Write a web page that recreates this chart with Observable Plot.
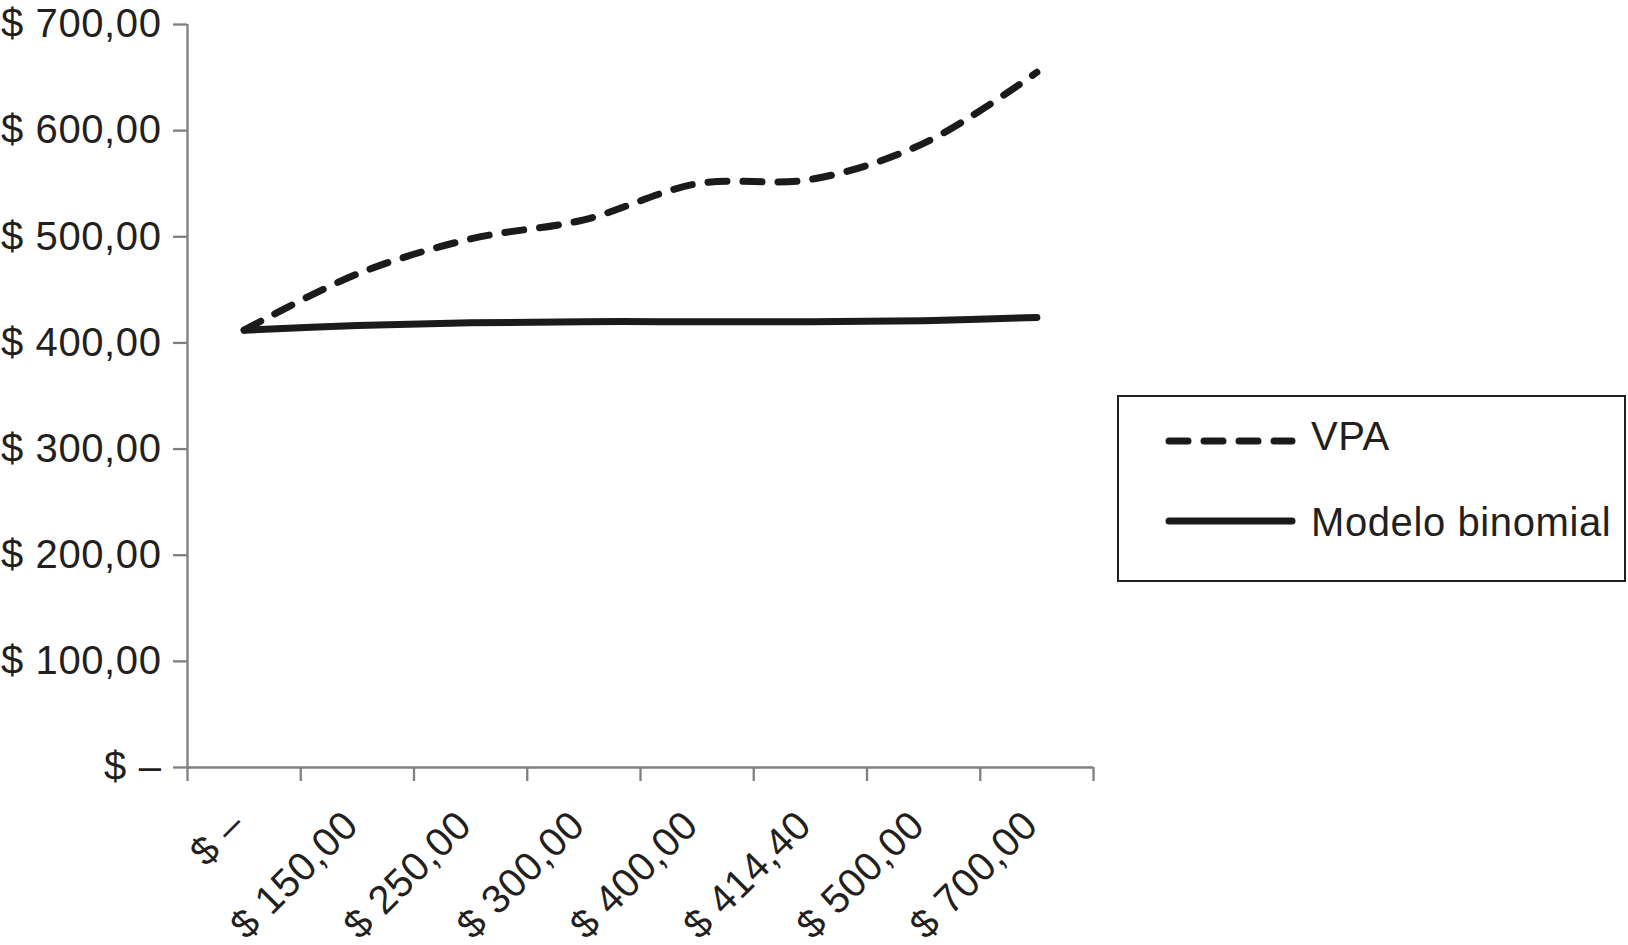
<!DOCTYPE html>
<html>
<head>
<meta charset="utf-8">
<script src="https://cdn.jsdelivr.net/npm/d3@7"></script>
<script src="https://cdn.jsdelivr.net/npm/@observablehq/plot@0.6"></script>
<style>
  body { margin: 0; background: #fff; }
  #wrap { position: relative; width: 1628px; height: 945px; font-family: "Liberation Sans", Arial, Helvetica, sans-serif; color: #231f20; }
  #legend { position: absolute; left: 1117px; top: 395px; width: 505px; height: 183px; border: 2.5px solid #231f20; background: #fff; }
  #legend svg { position: absolute; left: 0; top: 0; overflow: visible; }
</style>
</head>
<body>
<div id="wrap"></div>
<script>
// ---- data ----
const categories = ["$ –", "$ 150,00", "$ 250,00", "$ 300,00", "$ 400,00", "$ 414,40", "$ 500,00", "$ 700,00"];
const vpa = [412, 465, 498, 516, 550, 554, 588, 655];
const binomial = [412, 416.5, 419, 420, 420, 420, 421, 424];
const yTicks = [0, 100, 200, 300, 400, 500, 600, 700];
const seriesNames = ["VPA", "Modelo binomial"];

// ---- build ----
const ink = "#1c1a1b";
const gray = "#7f7f7f";
const idx = d3.range(categories.length);
const vpaData = idx.map(i => ({i, v: vpa[i]}));
const binData = idx.map(i => ({i, v: binomial[i]}));
const boundaries = d3.range(categories.length + 1).map(k => k - 0.5);
const fmt = d => d === 0 ? "$ –" : "$ " + d.toFixed(2).replace(".", ",");
const font = '"Liberation Sans", Arial, Helvetica, sans-serif';

const chart = Plot.plot({
  width: 1628,
  height: 945,
  marginLeft: 187,
  marginRight: 535,
  marginTop: 24,
  marginBottom: 178,
  x: {type: "linear", domain: [-0.5, categories.length - 0.5]},
  y: {domain: [0, 700]},
  style: {fontFamily: font, fontSize: "40px", color: "#231f20", background: "#fff", overflow: "visible", letterSpacing: "0.6px"},
  marks: [
    Plot.ruleY([0], {stroke: gray, strokeWidth: 2.3}),
    Plot.ruleX([-0.5], {y1: 0, y2: 700, stroke: gray, strokeWidth: 2.3}),
    Plot.axisY({ticks: yTicks, tickFormat: fmt, tickSize: 14, tickPadding: 12, stroke: gray, strokeWidth: 2.3, label: null}),
    Plot.axisX({ticks: boundaries, tickFormat: () => "", tickSize: 14, stroke: gray, strokeWidth: 2.3, label: null}),
    Plot.text(idx, {x: i => i, y: () => 0, text: i => categories[i], rotate: -45, textAnchor: "end", lineAnchor: "bottom", dx: 3, dy: 60, fill: "#231f20", fontSize: 40}),
    Plot.line(binData, {x: "i", y: "v", curve: "catmull-rom", stroke: ink, strokeWidth: 7, strokeLinecap: "round", strokeLinejoin: "round"}),
    Plot.line(vpaData, {x: "i", y: "v", curve: "catmull-rom", stroke: ink, strokeWidth: 7, strokeLinecap: "round", strokeLinejoin: "round", strokeDasharray: "19,16"})
  ]
});

const wrap = document.getElementById("wrap");
wrap.appendChild(chart);

// ---- legend ----
const legend = document.createElement("div");
legend.id = "legend";
wrap.appendChild(legend);
const ls = d3.select(legend).append("svg").attr("width", 505).attr("height", 183);
const items = [
  {name: seriesNames[0], dash: "19,16", y: 44, ty: 53},
  {name: seriesNames[1], dash: null, y: 124, ty: 139}
];
items.forEach(it => {
  ls.append("line")
    .attr("x1", 50).attr("x2", 173).attr("y1", it.y).attr("y2", it.y)
    .attr("stroke", ink).attr("stroke-width", 7).attr("stroke-linecap", "round")
    .attr("stroke-dasharray", it.dash);
  ls.append("text")
    .attr("x", 192).attr("y", it.ty)
    .attr("font-family", font).attr("font-size", 40).attr("letter-spacing", "0.6px")
    .attr("fill", "#231f20")
    .text(it.name);
});
</script>
</body>
</html>
